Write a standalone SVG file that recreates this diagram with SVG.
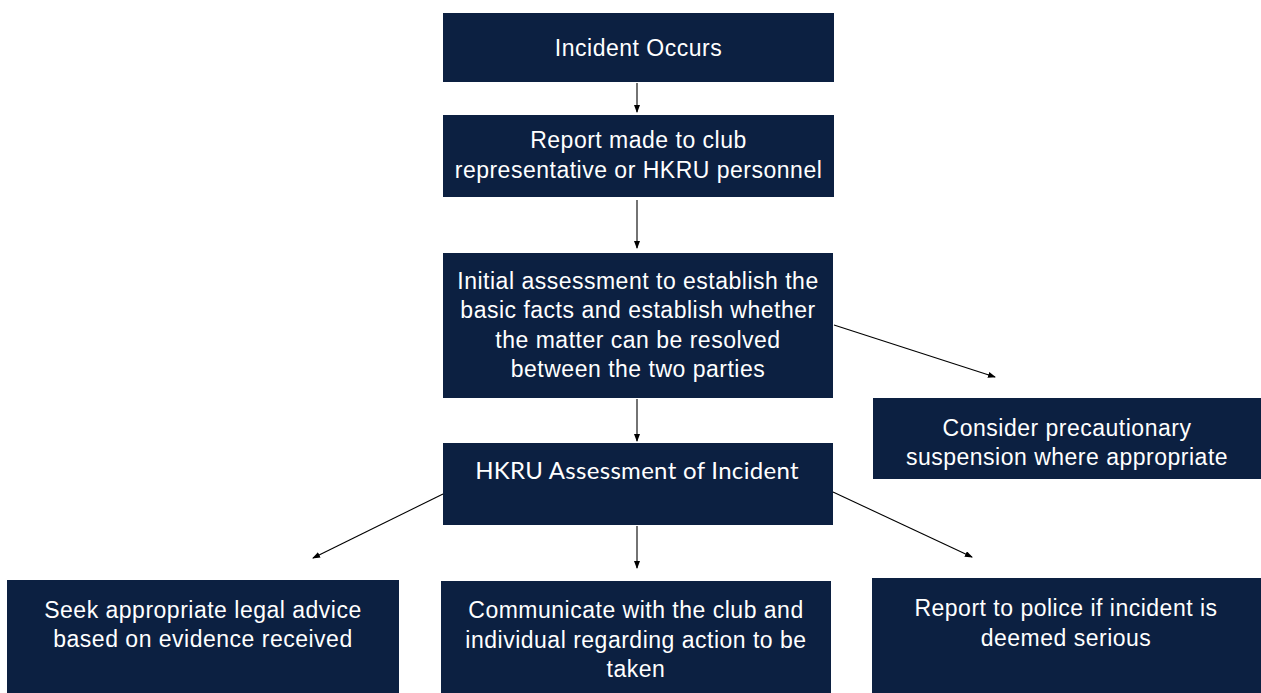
<svg xmlns="http://www.w3.org/2000/svg" width="1261" height="693" viewBox="0 0 1261 693">
<defs>
<marker id="ah" markerWidth="8" markerHeight="6" refX="7" refY="3" orient="auto" markerUnits="userSpaceOnUse">
<path d="M0,0 L8,3 L0,6 Z" fill="#000"/>
</marker>
<style>
.box{fill:#0c2041;}
.t{font-family:"Liberation Sans",Arial,sans-serif;font-size:23px;letter-spacing:0.5px;fill:#fff;text-anchor:middle;}
.t2{font-family:Lato,"Noto Sans",sans-serif;font-size:24px;letter-spacing:0.3px;fill:#fff;text-anchor:middle;}
.c{stroke:#000;stroke-width:1.1;fill:none;marker-end:url(#ah);}
</style>
</defs>
<rect width="1261" height="693" fill="#fff"/>
<g id="n1"><rect class="box" x="443" y="13" width="391" height="69"/><text class="t" x="638.5" y="56">Incident Occurs</text></g>
<g id="n2"><rect class="box" x="443" y="115" width="391" height="82"/><text class="t" x="638.5" y="148">Report made to club</text><text class="t" x="638.5" y="178">representative or HKRU personnel</text></g>
<g id="n3"><rect class="box" x="443" y="253" width="390" height="145"/><text class="t" x="638" y="289">Initial assessment to establish the</text><text class="t" x="638" y="318">basic facts and establish whether</text><text class="t" x="638" y="347.5">the matter can be resolved</text><text class="t" x="638" y="377">between the two parties</text></g>
<g id="n4"><rect class="box" x="443" y="443" width="390" height="82"/><text class="t2" x="637" y="478.5">HKRU Assessment of Incident</text></g>
<g id="n5"><rect class="box" x="873" y="398" width="388" height="81"/><text class="t" x="1067" y="436">Consider precautionary</text><text class="t" x="1067" y="465">suspension where appropriate</text></g>
<g id="n6"><rect class="box" x="7" y="580" width="392" height="113"/><text class="t" x="203" y="618">Seek appropriate legal advice</text><text class="t" x="203" y="647">based on evidence received</text></g>
<g id="n7"><rect class="box" x="441" y="581" width="390" height="112"/><text class="t" x="636" y="618">Communicate with the club and</text><text class="t" x="636" y="648">individual regarding action to be</text><text class="t" x="636" y="677">taken</text></g>
<g id="n8"><rect class="box" x="872" y="578" width="389" height="115"/><text class="t" x="1066" y="616">Report to police if incident is</text><text class="t" x="1066" y="646">deemed serious</text></g>
<g id="connectors">
<line class="c" x1="637" y1="83" x2="637" y2="112"/>
<line class="c" x1="637" y1="200" x2="637" y2="248"/>
<line class="c" x1="834" y1="325" x2="995" y2="377"/>
<line class="c" x1="637" y1="399" x2="637" y2="441"/>
<line class="c" x1="443" y1="494" x2="313" y2="558"/>
<line class="c" x1="637" y1="526" x2="637" y2="568"/>
<line class="c" x1="833" y1="492" x2="972" y2="557"/>
</g>
</svg>
